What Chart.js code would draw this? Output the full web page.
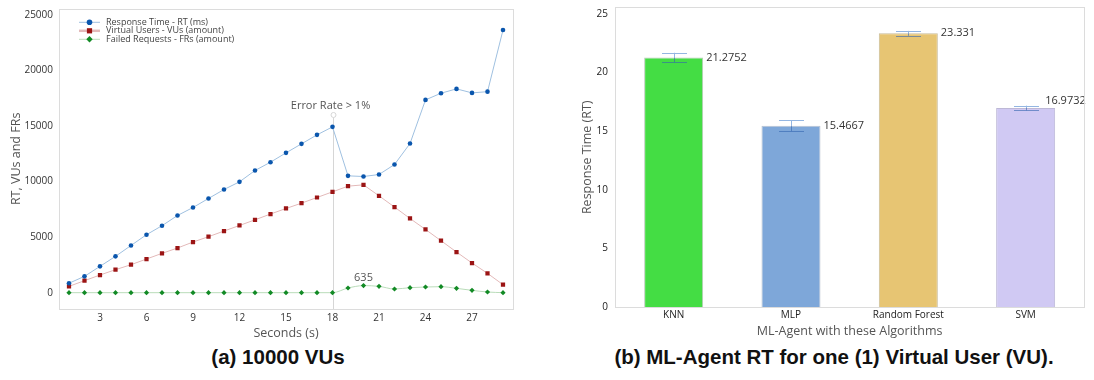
<!DOCTYPE html>
<html>
<head>
<meta charset="utf-8">
<script src="https://cdn.jsdelivr.net/npm/chart.js@4.4.0/dist/chart.umd.min.js"></script>
<style>
  html, body { margin: 0; padding: 0; background: #fff; }
  body { width: 1094px; height: 380px; position: relative; overflow: hidden; }
  .wrap { position: absolute; top: 0; height: 345px; }
  #w1 { left: 0; width: 530px; }
  #w2 { left: 550px; width: 544px; }
  .cap { position: absolute; top: 345px; font-family: "Liberation Sans", Arial, sans-serif; font-weight: bold; font-size: 20.5px; color: #111; white-space: nowrap; transform: translateX(-50%); }
</style>
</head>
<body>
<div class="wrap" id="w1"><canvas id="c1"></canvas></div>
<div class="wrap" id="w2"><canvas id="c2"></canvas></div>
<div class="cap" style="left:278px">(a) 10000 VUs</div>
<div class="cap" style="left:834px">(b) ML-Agent RT for one (1) Virtual User (VU).</div>
<script>
// ---------- Data: chart (a) ----------
const seconds = [1,2,3,4,5,6,7,8,9,10,11,12,13,14,15,16,17,18,19,20,21,22,23,24,25,26,27,28,29];
const responseTime = [850,1470,2370,3270,4250,5220,6030,6950,7670,8480,9290,9980,11000,11750,12590,13400,14210,14930,10520,10460,10640,11540,13430,17360,17960,18350,17990,18100,23650];
const virtualUsers = [570,1080,1590,2070,2520,3030,3540,4020,4560,5040,5550,6050,6560,7080,7580,8060,8570,9080,9590,9710,8720,7710,6680,5690,4680,3660,2670,1740,720];
const failedRequests = [0,0,0,0,0,0,0,0,0,0,0,0,0,0,0,0,0,0,420,635,570,330,450,510,540,390,210,60,0];
const secondTicks = [3,6,9,12,15,18,21,24,27];
const countTicks = [0,5000,10000,15000,20000,25000];
const seriesNames = ["Response Time - RT (ms)", "Virtual Users - VUs (amount)", "Failed Requests - FRs (amount)"];
const errorRateSecond = 18;
const errorRateLevel = 16000;
const errorRateText = "Error Rate > 1%";
const peakFailSecond = 20;

// ---------- Data: chart (b) ----------
const algorithms = ["KNN", "MLP", "Random Forest", "SVM"];
const meanRT = [21.2752, 15.4667, 23.331, 16.9732];
const errRT = [0.4, 0.46, 0.21, 0.2];
const rtTicks = [0,5,10,15,20,25];

const FONT = '"Open Sans", "Noto Sans", sans-serif';
const frame = {
  id: 'frame',
  afterDraw(chart) {
    const a = chart.chartArea, ctx = chart.ctx;
    ctx.save();
    ctx.strokeStyle = '#dcdcdc';
    ctx.lineWidth = 1;
    ctx.strokeRect(Math.round(a.left) + 0.5, Math.round(a.top) + 0.5, Math.round(a.right - a.left), Math.round(a.bottom - a.top));
    ctx.restore();
  }
};
function noPadY(s, w) { s.width = w; s.paddingTop = 0; s.paddingBottom = 0; }
function noPadX(s, h) { s.height = h; s.paddingLeft = 0; s.paddingRight = 0; }

function pts(arr) { return seconds.map((s, i) => ({x: s, y: arr[i]})); }

const annoA = {
  id: 'annoA',
  beforeDatasetsDraw(chart) {
    const ctx = chart.ctx, xs = chart.scales.x, ys = chart.scales.y;
    const x = Math.round(xs.getPixelForValue(errorRateSecond)) + 0.5;
    const topY = ys.getPixelForValue(errorRateLevel);
    ctx.save();
    ctx.strokeStyle = '#d6d6d6';
    ctx.lineWidth = 1;
    ctx.beginPath();
    ctx.moveTo(x, chart.chartArea.bottom);
    ctx.lineTo(x, topY + 2.5);
    ctx.stroke();
    ctx.beginPath();
    ctx.arc(x, topY, 2.5, 0, Math.PI * 2);
    ctx.stroke();
    ctx.restore();
  },
  afterDraw(chart) {
    const ctx = chart.ctx, xs = chart.scales.x, ys = chart.scales.y;
    ctx.save();
    ctx.fillStyle = '#555';
    ctx.font = '11px ' + FONT;
    ctx.textAlign = 'center';
    ctx.textBaseline = 'middle';
    ctx.fillText(errorRateText, xs.getPixelForValue(errorRateSecond) - 2, ys.getPixelForValue(errorRateLevel) - 9);
    const i = seconds.indexOf(peakFailSecond);
    ctx.fillText(String(failedRequests[i]), xs.getPixelForValue(peakFailSecond), ys.getPixelForValue(failedRequests[i]) - 8);
    // legend
    const a = chart.chartArea;
    ctx.font = '9px ' + FONT;
    ctx.textAlign = 'left';
    chart.data.datasets.forEach((ds, k) => {
      const y = a.top + 13.6 + k * 8.5;
      const x0 = a.left + 20, x1 = a.left + 41;
      ctx.strokeStyle = ds.borderColor;
      ctx.lineWidth = k === 1 ? 2.5 : 1;
      ctx.beginPath(); ctx.moveTo(x0, y); ctx.lineTo(x1, y); ctx.stroke();
      ctx.fillStyle = ds.pointBackgroundColor;
      const cx = (x0 + x1) / 2;
      ctx.beginPath();
      if (ds.pointStyle === 'circle') ctx.arc(cx, y, 2.8, 0, Math.PI * 2);
      else if (ds.pointStyle === 'rect') ctx.rect(cx - 2.6, y - 2.6, 5.2, 5.2);
      else { ctx.moveTo(cx, y - 3.2); ctx.lineTo(cx + 3.2, y); ctx.lineTo(cx, y + 3.2); ctx.lineTo(cx - 3.2, y); ctx.closePath(); }
      ctx.fill();
      ctx.fillStyle = '#444';
      ctx.fillText(ds.label, x1 + 6, y);
    });
    ctx.restore();
  }
};

new Chart(document.getElementById('c1'), {
  type: 'line',
  data: {
    datasets: [
      { label: seriesNames[0], data: pts(responseTime), borderColor: '#9fc0e0', borderWidth: 1, pointStyle: 'circle', pointRadius: 2.3, pointBackgroundColor: '#0a56ad', pointBorderWidth: 0, tension: 0 },
      { label: seriesNames[1], data: pts(virtualUsers), borderColor: '#e3b9b9', borderWidth: 1, pointStyle: 'rect', pointRadius: 3, pointBackgroundColor: '#9b1414', pointBorderWidth: 0, tension: 0 },
      { label: seriesNames[2], data: pts(failedRequests), borderColor: '#b9dcb9', borderWidth: 1, pointStyle: 'rectRot', pointRadius: 2.6, pointBackgroundColor: '#128a25', pointBorderWidth: 0, tension: 0.4, cubicInterpolationMode: 'monotone' }
    ]
  },
  options: {
    responsive: true, maintainAspectRatio: false, animation: false,
    layout: { padding: { top: 8.7, right: 17, left: 5, bottom: 0 } },
    plugins: { legend: { display: false }, tooltip: { enabled: false } },
    scales: {
      x: {
        type: 'linear', min: 0.355, max: 29.645,
        afterBuildTicks(s) { s.ticks = secondTicks.map(v => ({ value: v })); },
        grid: { display: false, drawTicks: false }, border: { display: false },
        ticks: { color: '#333', font: { family: FONT, size: 10 }, padding: 3, maxRotation: 0 },
        title: { display: true, text: 'Seconds (s)', color: '#555', font: { family: FONT, size: 12.5 }, padding: { top: 0 } },
        afterFit(s) { noPadX(s, 36); }
      },
      y: {
        min: -1470, max: 25570,
        afterBuildTicks(s) { s.ticks = countTicks.map(v => ({ value: v })); },
        grid: { display: false, drawTicks: false }, border: { display: false },
        ticks: { color: '#333', font: { family: FONT, size: 10 }, padding: 6, callback: v => String(v) },
        title: { display: true, text: 'RT, VUs and FRs', color: '#555', font: { family: FONT, size: 12.5 }, padding: { bottom: 6 } },
        afterFit(s) { noPadY(s, 54); }
      }
    }
  },
  plugins: [frame, annoA]
});

const annoB = {
  id: 'annoB',
  afterDatasetsDraw(chart) {
    const ctx = chart.ctx, ys = chart.scales.y;
    const meta = chart.getDatasetMeta(0);
    ctx.save();
    meta.data.forEach((bar, i) => {
      const x = Math.round(bar.x) + 0.5;
      const hi = ys.getPixelForValue(meanRT[i] + errRT[i]);
      const lo = ys.getPixelForValue(meanRT[i] - errRT[i]);
      const mid = ys.getPixelForValue(meanRT[i]);
      ctx.lineWidth = 1;
      ctx.strokeStyle = '#94b6e2';
      ctx.beginPath();
      ctx.moveTo(x, hi); ctx.lineTo(x, mid);
      ctx.moveTo(x - 12.5, Math.round(hi) + 0.5); ctx.lineTo(x + 12.5, Math.round(hi) + 0.5);
      ctx.stroke();
      ctx.strokeStyle = 'rgba(50,100,175,0.6)';
      ctx.beginPath();
      ctx.moveTo(x, mid); ctx.lineTo(x, lo);
      ctx.moveTo(x - 12.5, Math.round(lo) + 0.5); ctx.lineTo(x + 12.5, Math.round(lo) + 0.5);
      ctx.stroke();
      ctx.fillStyle = '#333';
      ctx.font = '11px ' + FONT;
      ctx.textBaseline = 'middle';
      ctx.textAlign = 'left';
      const last = i === meanRT.length - 1;
      const lx = last ? bar.x + bar.width / 2 - 10 : bar.x + bar.width / 2 + 3;
      const ly = last ? mid - 7 : mid;
      ctx.fillText(String(meanRT[i]), lx, ly);
    });
    ctx.restore();
  }
};

new Chart(document.getElementById('c2'), {
  type: 'bar',
  data: {
    labels: algorithms,
    datasets: [{
      data: meanRT,
      backgroundColor: ['#44dd44', '#7ea7d9', '#e7c573', '#d0c9f3'],
      borderColor: ['#b9c9b9', '#b9c2cf', '#c9bc9a', '#bdb8d6'],
      borderWidth: 1,
      barPercentage: 0.503, categoryPercentage: 1
    }]
  },
  options: {
    responsive: true, maintainAspectRatio: false, animation: false,
    layout: { padding: { top: 7.3, right: 9.7, left: 26, bottom: 2 } },
    plugins: { legend: { display: false }, tooltip: { enabled: false } },
    scales: {
      x: {
        grid: { display: false, drawTicks: false }, border: { display: false },
        ticks: { color: '#222', font: { family: FONT, size: 10 }, padding: 2, maxRotation: 0 },
        title: { display: true, text: 'ML-Agent with these Algorithms', color: '#555', font: { family: FONT, size: 12.5 }, padding: { top: 0 } },
        afterFit(s) { noPadX(s, 35.7); }
      },
      y: {
        min: 0, max: 25.55,
        afterBuildTicks(s) { s.ticks = rtTicks.map(v => ({ value: v })); },
        grid: { display: false, drawTicks: false }, border: { display: false },
        ticks: { color: '#222', font: { family: FONT, size: 10 }, padding: 7 },
        title: { display: true, text: 'Response Time (RT)', color: '#555', font: { family: FONT, size: 12.5 }, padding: { bottom: 6 } },
        afterFit(s) { noPadY(s, 39); }
      }
    }
  },
  plugins: [frame, annoB]
});
</script>
</body>
</html>
